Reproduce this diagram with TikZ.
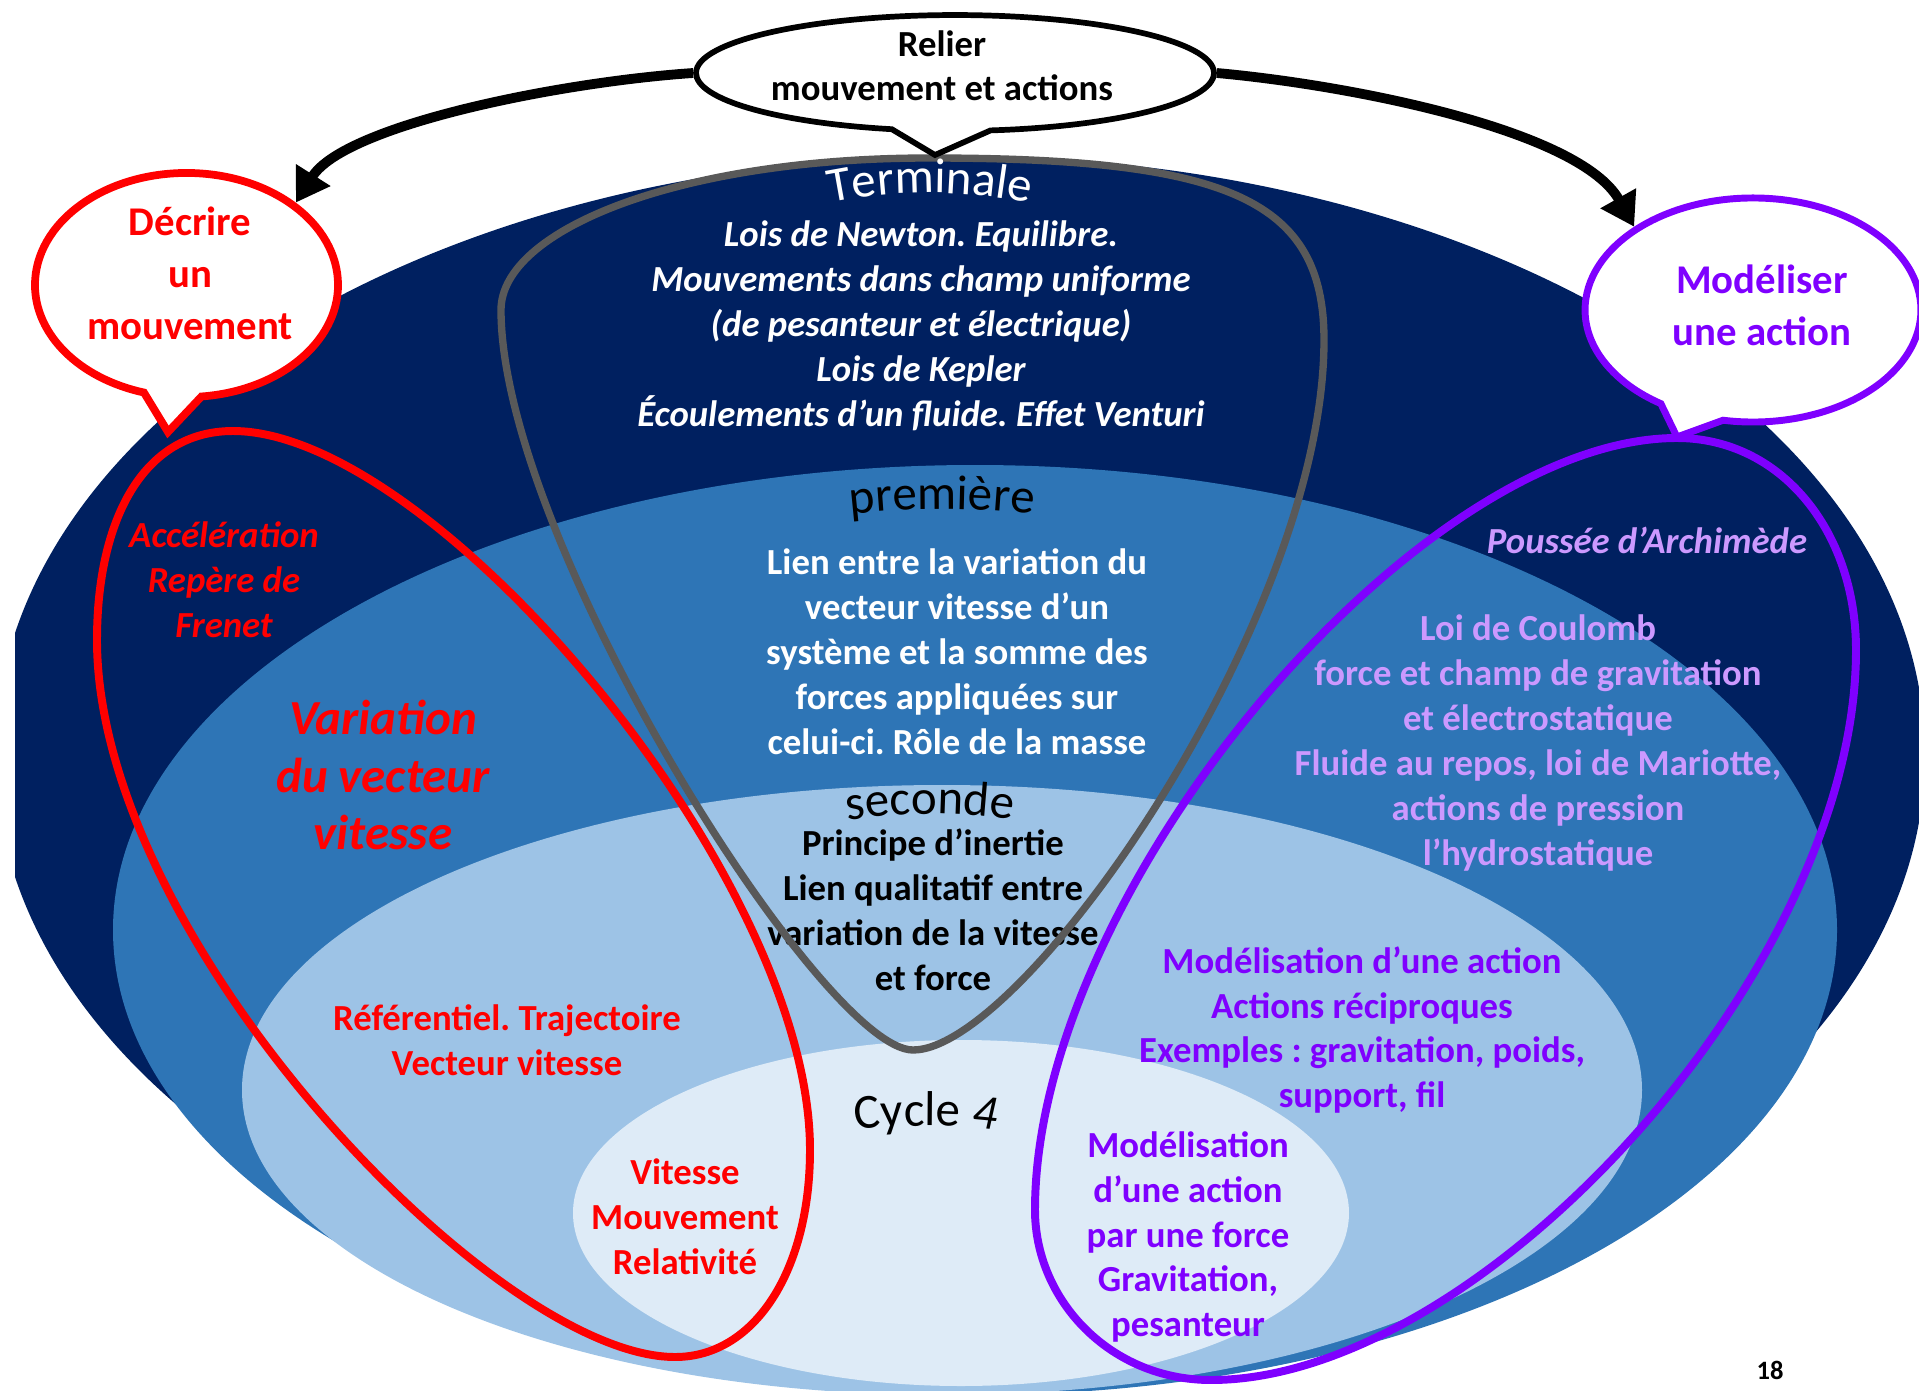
\documentclass[tikz,border=0pt]{standalone}
\usepackage{fontspec}
\setmainfont{Carlito}
\frenchspacing
\usetikzlibrary{shapes.callouts,arrows.meta,decorations.text,calc}

\definecolor{navyfill}{RGB}{0,32,96}
\definecolor{midfill}{RGB}{46,117,182}
\definecolor{lightfill}{RGB}{157,195,230}
\definecolor{palefill}{RGB}{222,235,247}
\definecolor{loopgray}{RGB}{89,89,89}
\definecolor{motionred}{RGB}{255,0,0}
\definecolor{actionviolet}{RGB}{127,0,255}
\definecolor{actionlilac}{RGB}{204,153,255}

\newcommand\levelfont{\fontsize{24}{29}\selectfont}

\tikzset{
  txt/.style={align=center, inner sep=0pt, font=\bfseries\fontsize{18}{22}\selectfont},
  txti/.style={align=center, inner sep=0pt, font=\bfseries\itshape\fontsize{18}{22}\selectfont},
  bubbletxt/.style={align=center, inner sep=0pt, font=\bfseries\fontsize{20}{25.5}\selectfont},
  bubble/.style={ellipse callout, fill=white, inner sep=0pt},
  loopline/.style={line width=3.9pt, line join=round},
  linkarrow/.style={line width=4.8pt, -{Triangle[length=16pt,width=19pt]}},
  leveltitle/.style={decorate, decoration={text along path, text align=center, text color=#1}},
}

\begin{document}
\begin{tikzpicture}[x=0.49pt,y=-0.49pt]
\useasboundingbox (0,0) rectangle (1919,1391);

% nested school levels
\begin{scope}
  \clip (15,0) rectangle (1919,1391);
  \fill[navyfill] (960,755) ellipse [x radius=965, y radius=599];
\end{scope}
\fill[midfill] (975,930) ellipse [x radius=862, y radius=465];
\fill[lightfill] (942,1090) ellipse [x radius=700, y radius=305];
\fill[palefill] (961,1213) ellipse [x radius=388, y radius=173];

% level titles, set along arcs
\path[leveltitle=black, decoration={text={|\levelfont|première}}]
  ($(942,1309)+(-102:800)$) arc [start angle=-102, end angle=-78, radius=800];
\path[leveltitle=black, decoration={text={|\levelfont|seconde}}]
  ($(930,1364)+(-104:550)$) arc [start angle=-104, end angle=-76, radius=550];
\path[leveltitle=black, decoration={text={|\levelfont|Cycle |\levelfont\itshape|4}}]
  ($(926,1726)+(-101:600)$) arc [start angle=-101, end angle=-79, radius=600];

% contents of each level
\node[txti, text=white] (termtext) at (921,326)
  {Lois de Newton. Equilibre.\\Mouvements dans champ uniforme\\(de pesanteur et électrique)\\Lois de Kepler\\Écoulements d’un fluide. Effet Venturi};
\node[txt, text=white] (premtext) at (957,652)
  {Lien entre la variation du\\vecteur vitesse d’un\\système et la somme des\\forces appliquées sur\\celui-ci. Rôle de la masse};
\node[txt] (sectext) at (933,910)
  {Principe d’inertie\\Lien qualitatif entre\\variation de la vitesse\\et force};

% motion side
\node[txti, text=motionred] (accel) at (224,580) {Accélération\\Repère de\\Frenet};
\node[align=center, inner sep=0pt, text=motionred, font=\bfseries\itshape\fontsize{24}{28.2}\selectfont] (varvit) at (383,775)
  {Variation\\du vecteur\\vitesse};
\node[txt, text=motionred] (referentiel) at (507,1040) {Référentiel. Trajectoire\\Vecteur vitesse};
\node[txt, text=motionred] (vitesse) at (685,1217) {Vitesse\\Mouvement\\Relativité};

% action side
\node[txti, text=actionlilac] (archimede) at (1647,540) {Poussée d’Archimède};
\node[txt, text=actionlilac] (coulomb) at (1538,743)
  {Loi de Coulomb\\force et champ de gravitation\\et électrostatique\\Fluide au repos, loi de Mariotte,\\actions de pression\\l’hydrostatique};
\node[txt, text=actionviolet] (modelisation) at (1362,1030)
  {Modélisation d’une action\\Actions réciproques\\Exemples : gravitation, poids,\\support, fil};
\node[txt, text=actionviolet] (parforce) at (1188,1237)
  {Modélisation\\d’une action\\par une force\\Gravitation,\\pesanteur};

% outline of the Terminale domain
\draw[loopline, loopgray, line width=3.6pt]
  (913,1050) .. controls (823,1050) and (501,540) .. (501,310)
  .. controls (501,230) and (679,158) .. (929,158)
  .. controls (1229,158) and (1324,200) .. (1324,340)
  .. controls (1324,620) and (1023,1050) .. cycle;

\path[leveltitle=white, decoration={text={|\levelfont|Terminale}}]
  ($(930,688)+(-110:495)$) arc [start angle=-110, end angle=-70, radius=495];

% motion loop
\draw[loopline, motionred]
  (233,431) .. controls (433,431) and (810,875) .. (810,1150)
  .. controls (810,1270) and (755,1357) .. (675,1357)
  .. controls (495,1357) and (97,940) .. (97,640)
  .. controls (97,520) and (143,431) .. cycle;

% action loop
\draw[loopline, actionviolet]
  (1677,438) .. controls (1780,438) and (1856,530) .. (1856,650)
  .. controls (1856,970) and (1481,1380) .. (1211,1380)
  .. controls (1110,1380) and (1035,1300) .. (1035,1210)
  .. controls (1035,890) and (1417,438) .. cycle;

% speech bubbles
\node[bubble, draw=black, line width=2.8pt, minimum width=253.8pt, minimum height=56.8pt,
  callout absolute pointer={(935,155)}, callout pointer arc=22] (relier) at (955,73) {};
\node[bubble, draw=motionred, line width=3.8pt, minimum width=148.5pt, minimum height=109.8pt,
  callout absolute pointer={(168,432)}, callout pointer arc=22] (decrire) at (186.5,285) {};
\node[bubble, draw=actionviolet, line width=3.4pt, minimum width=164.6pt, minimum height=109.8pt,
  callout absolute pointer={(1677,437)}, callout pointer arc=23] (modeliser) at (1753,310) {};

\node[align=center, inner sep=0pt, font=\bfseries\fontsize{18}{21.6}\selectfont] (reliertext) at (942,66)
  {Relier\\mouvement et actions};
\node[bubbletxt, text=motionred] (decriretext) at (190,273) {Décrire\\un\\mouvement};
\node[bubbletxt, text=actionviolet] (modelisertext) at (1762,305) {Modéliser\\une action};

% links from the central question
\draw[linkarrow] (relier.west) .. controls (560,82) and (345,125) .. (decrire.37);
\draw[linkarrow] (relier.east) .. controls (1350,85) and (1580,130) .. (modeliser.145);

\node[inner sep=0pt, font=\bfseries\fontsize{13}{15}\selectfont] (pagenum) at (1770,1370) {18};
\end{tikzpicture}
\end{document}
